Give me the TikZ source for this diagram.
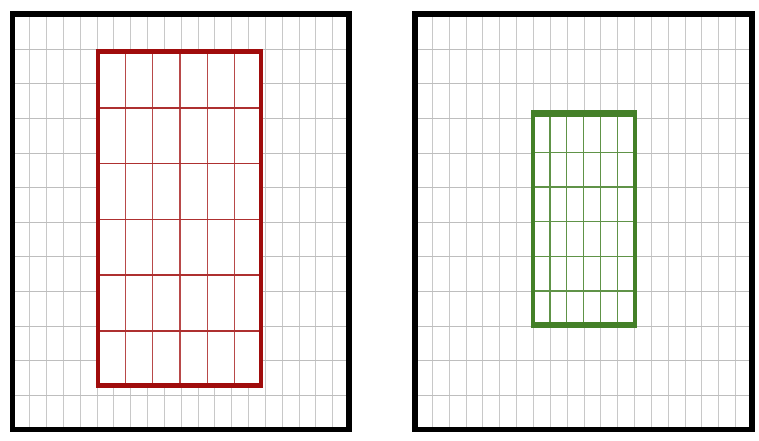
\documentclass[tikz,border=0pt]{standalone}
\definecolor{gridgray}{RGB}{190,190,190}
\definecolor{boxred}{RGB}{160,12,12}
\definecolor{boxgreen}{RGB}{68,128,40}
\begin{document}
\begin{tikzpicture}[x=1pt,y=-1pt,
  bgv/.style={draw=gridgray!85, line width=1pt},
  bgh/.style={draw=gridgray, line width=1pt},
  frame/.style={draw=black, line width=5.5pt, line join=miter},
  redthinv/.style={draw=boxred!75, line width=1.2pt},
  redthinh/.style={draw=boxred!85, line width=1.6pt},
  redframe/.style={draw=boxred, line width=4.5pt},
  greenthin/.style={draw=boxgreen!85, line width=1.4pt},
  greenside/.style={draw=boxgreen, line width=4pt},
  greenend/.style={draw=boxgreen, line width=6.5pt}]
\useasboundingbox (0,0) rectangle (759,440);
% ---------- left panel ----------
\foreach \i in {1,...,19} \draw[bgv] ({round(12.5+\i*16.825)+0.5},14) -- ({round(12.5+\i*16.825)+0.5},429.5);
\foreach \j in {1,...,11} \draw[bgh] (12.5,{round(14+\j*34.625)+0.5}) -- (349,{round(14+\j*34.625)+0.5});
\draw[frame] (12.5,14) rectangle (349,429.5);
% red rectangle
\fill[white] (98,51.5) rectangle (261,385);
\foreach \i in {1,...,5} \draw[redthinv] ({98+\i*27.3},51.5) -- ++(0,333.5);
\foreach \j in {1,...,5} \draw[redthinh] (98,{52+\j*55.8}) -- ++(163,0);
\draw[redframe] (98,51.5) rectangle (261,385);
\draw[boxred, line width=5.5pt] (95.75,385.5) -- (263.25,385.5);
% ---------- right panel ----------
\foreach \i in {1,...,19} \draw[bgv] ({round(415+\i*16.85)+0.5},14) -- ({round(415+\i*16.85)+0.5},429.5);
\foreach \j in {1,...,11} \draw[bgh] (415,{round(14+\j*34.625)+0.5}) -- (752,{round(14+\j*34.625)+0.5});
\draw[frame] (415,14) rectangle (752,429.5);
% green rectangle
\fill[white] (533,113.5) rectangle (634.5,325);
\foreach \i in {8,...,12} \draw[greenthin] ({415+\i*16.85},113.5) -- ({415+\i*16.85},325);
\foreach \j in {4,...,8} \draw[greenthin] (533,{14+\j*34.625}) -- (634.5,{14+\j*34.625});
\draw[greenside] (533,113.5) -- (533,325);
\draw[greenside] (634.5,113.5) -- (634.5,325);
\draw[greenend] (531,113.5) -- (636.5,113.5);
\draw[greenend] (531,325) -- (636.5,325);
\end{tikzpicture}
\end{document}
